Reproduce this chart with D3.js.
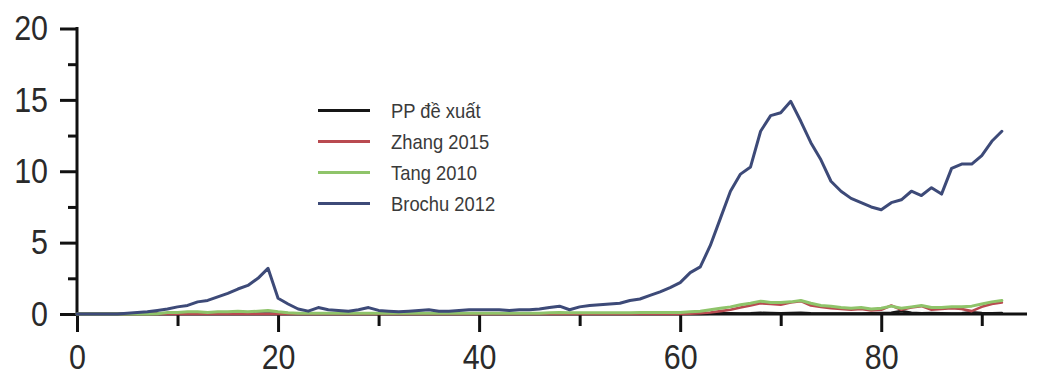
<!DOCTYPE html>
<html>
<head>
<meta charset="utf-8">
<script src="https://cdn.jsdelivr.net/npm/d3@7"></script>
<style>
  html, body { margin: 0; padding: 0; background: #fff; }
  svg { display: block; }
</style>
</head>
<body>
<svg id="chart" width="1039" height="375"></svg>
<script>
// Frame index 0..92
const frames = d3.range(0, 93);

const seriesNames = ["PP đề xuất", "Zhang 2015", "Tang 2010", "Brochu 2012"];
const seriesColors = ["#161616", "#b94a50", "#8fc46a", "#3d4a78"];

const ppValues = [
  0,0,0,0,0,0,0,0,0,0,
  0,0,0,0,0,0,0,0,0,0,
  0,0,0,0,0,0,0,0,0,0,
  0,0,0,0,0,0,0,0,0,0,
  0,0,0,0,0,0,0,0,0,0,
  0,0,0,0,0,0,0,0,0,0,
  0,0,0,0.02,0.05,0.05,0.04,0.05,0.08,0.06,
  0.05,0.06,0.08,0.05,0.04,0.03,0.04,0.03,0.04,0.05,
  0.06,0.08,0.2,0.08,0.05,0.06,0.05,0.04,0.05,0.12,
  0.06,0.05,0.06
];

const zhangValues = [
  0,0,0,0,0,0,0,0,0,0,
  0,0,0,0,0,0,0,0,0,0,
  0,0,0,0,0,0,0,0,0,0,
  0,0,0,0,0,0,0,0,0,0,
  0,0,0,0,0,0,0,0,0,0,
  0,0,0,0,0,0,0,0,0,0,
  0,0.02,0.05,0.1,0.2,0.3,0.45,0.6,0.75,0.7,
  0.65,0.8,0.9,0.6,0.5,0.4,0.35,0.3,0.35,0.25,
  0.3,0.6,0.3,0.45,0.55,0.3,0.35,0.4,0.35,0.2,
  0.5,0.7,0.8
];

const tangValues = [
  0,0,0,0,0,0,0,0,0.02,0.1,
  0.1,0.15,0.15,0.1,0.15,0.15,0.2,0.15,0.2,0.25,
  0.15,0.08,0.05,0.05,0.05,0.05,0.05,0.05,0.05,0.05,
  0.05,0.05,0.05,0.05,0.05,0.05,0.05,0.05,0.05,0.05,
  0.05,0.05,0.05,0.05,0.05,0.05,0.05,0.08,0.1,0.08,
  0.08,0.08,0.08,0.08,0.08,0.08,0.1,0.1,0.1,0.1,
  0.1,0.15,0.2,0.3,0.4,0.5,0.65,0.75,0.9,0.8,
  0.8,0.85,0.95,0.75,0.6,0.55,0.45,0.4,0.45,0.35,
  0.4,0.55,0.4,0.5,0.6,0.45,0.45,0.5,0.5,0.55,
  0.7,0.85,0.95
];

const brochuValues = [
  0,0,0,0,0,0.05,0.1,0.15,0.25,0.35,
  0.5,0.6,0.85,0.95,1.2,1.45,1.75,2.0,2.5,3.2,
  1.1,0.7,0.35,0.2,0.45,0.3,0.25,0.2,0.3,0.45,
  0.25,0.2,0.15,0.2,0.25,0.3,0.2,0.2,0.25,0.3,
  0.3,0.3,0.3,0.25,0.3,0.3,0.35,0.45,0.55,0.3,
  0.5,0.6,0.65,0.7,0.75,0.95,1.05,1.3,1.55,1.85,
  2.2,2.9,3.3,4.8,6.7,8.6,9.8,10.3,12.8,13.9,
  14.1,14.9,13.5,12.0,10.8,9.3,8.6,8.1,7.8,7.5,
  7.3,7.8,8.0,8.6,8.3,8.85,8.4,10.2,10.5,10.5,
  11.1,12.1,12.8
];

const seriesValues = [ppValues, zhangValues, tangValues, brochuValues];

const xTicks = [0, 20, 40, 60, 80];
const xMinorTicks = [10, 30, 50, 70, 90];
const yTicks = [0, 5, 10, 15, 20];
const yMinorTicks = [2.5, 7.5, 12.5, 17.5];

const svg = d3.select("#chart");

const x = d3.scaleLinear().domain([0, 94.5]).range([77, 1027]);
const y = d3.scaleLinear().domain([0, 20]).range([314, 28.5]);

const baseFont = "'Liberation Sans', Arial, sans-serif";
const narrow = 0.87; // horizontal squeeze for the tall, narrow tick digits

// Y axis: major ticks with labels, minor ticks without
const yAxis = d3.axisLeft(y).tickValues(yTicks).tickSize(17).tickPadding(12)
  .tickFormat(d3.format("d"));
const yMinor = d3.axisLeft(y).tickValues(yMinorTicks).tickSize(9).tickFormat("");

// X axis: ticks point downward
const xAxis = d3.axisBottom(x).tickValues(xTicks).tickSize(18).tickPadding(12)
  .tickFormat(d3.format("d"));
const xMinor = d3.axisBottom(x).tickValues(xMinorTicks).tickSize(12).tickFormat("");

function styleAxis(g) {
  g.select(".domain").remove();
  g.selectAll(".tick line").attr("stroke", "#111").attr("stroke-width", 3);
  g.selectAll(".tick text")
    .attr("fill", "#2a2a2a")
    .style("font-family", baseFont)
    .style("font-size", "35px")
    .each(function() {
      const t = d3.select(this);
      const tx = +t.attr("x") || 0;
      t.attr("x", 0).attr("transform", `translate(${tx},0) scale(${narrow},1)`);
    });
}

svg.append("g").attr("transform", `translate(${x(0)},0)`).call(yMinor).call(styleAxis);
svg.append("g").attr("transform", `translate(${x(0)},0)`).call(yAxis).call(styleAxis);
svg.append("g").attr("transform", `translate(0,${y(0)})`).call(xMinor).call(styleAxis);
svg.append("g").attr("transform", `translate(0,${y(0)})`).call(xAxis).call(styleAxis);

// Axis lines
svg.append("line")
  .attr("x1", x(0)).attr("x2", x(0))
  .attr("y1", y(20) - 1.5).attr("y2", y(0))
  .attr("stroke", "#111").attr("stroke-width", 3);
svg.append("line")
  .attr("x1", x(0)).attr("x2", x.range()[1])
  .attr("y1", y(0)).attr("y2", y(0))
  .attr("stroke", "#111").attr("stroke-width", 3);

// Series lines
const line = d3.line()
  .x((d, i) => x(frames[i]))
  .y(d => y(d));

const widths = [2.6, 2.6, 3, 3];
seriesValues.forEach((vals, k) => {
  svg.append("path")
    .datum(vals)
    .attr("fill", "none")
    .attr("stroke", seriesColors[k])
    .attr("stroke-width", widths[k])
    .attr("stroke-linejoin", "round")
    .attr("stroke-linecap", "round")
    .attr("d", line);
});

// Legend
const legend = svg.append("g").attr("transform", "translate(318,110.5)");
seriesNames.forEach((name, i) => {
  const row = legend.append("g").attr("transform", `translate(0,${i * 31})`);
  row.append("line")
    .attr("x1", 0).attr("x2", 52)
    .attr("y1", 0).attr("y2", 0)
    .attr("stroke", seriesColors[i])
    .attr("stroke-width", 3.2);
  row.append("text")
    .attr("x", 0).attr("y", 0)
    .attr("dy", "0.35em")
    .attr("transform", "translate(73,0) scale(0.92,1)")
    .attr("fill", "#3a3a3a")
    .style("font-family", baseFont)
    .style("font-size", "20px")
    .text(name);
});
</script>
</body>
</html>
